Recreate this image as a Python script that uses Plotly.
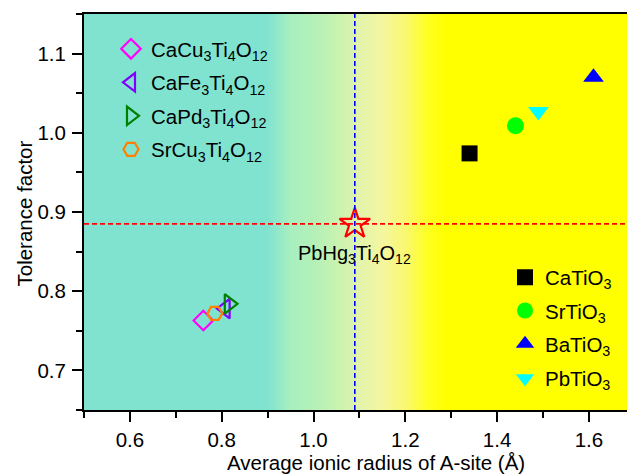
import numpy as np
import plotly.graph_objects as go

# ---------------- data ----------------
cubic_names = ["CaTiO<sub>3</sub>", "SrTiO<sub>3</sub>", "BaTiO<sub>3</sub>", "PbTiO<sub>3</sub>"]
cubic_r = [1.34, 1.44, 1.61, 1.49]
cubic_t = [0.974, 1.009, 1.070, 1.027]
cubic_sym = ["square", "circle", "triangle-up", "triangle-down"]
cubic_col = ["#000000", "#00FF00", "#0000FF", "#00FFFF"]
cubic_size = [16, 17, 18, 18]

aa_names = ["CaCu<sub>3</sub>Ti<sub>4</sub>O<sub>12</sub>", "CaFe<sub>3</sub>Ti<sub>4</sub>O<sub>12</sub>",
            "CaPd<sub>3</sub>Ti<sub>4</sub>O<sub>12</sub>", "SrCu<sub>3</sub>Ti<sub>4</sub>O<sub>12</sub>"]
aa_r = [0.760, 0.808, 0.816, 0.785]
aa_t = [0.763, 0.778, 0.784, 0.772]
aa_sym = ["diamond-open", "triangle-left-open", "triangle-right-open", "hexagon2-open"]
aa_col = ["#FF00FF", "#8000FF", "#008000", "#FF8000"]
aa_size = [15, 17, 17, 15]

star_name = "PbHg<sub>3</sub>Ti<sub>4</sub>O<sub>12</sub>"
star_r = [1.09]
star_t = [0.885]

x_title = "Average ionic radius of A-site (Å)"
y_title = "Tolerance factor"

x_range = [0.5, 1.683]
y_range = [0.65, 1.15]

# background gradient stops (x position, colour)
grad_x = [0.5, 0.90, 0.95, 1.00, 1.05, 1.10, 1.15, 1.20, 1.25, 1.29, 1.8]
grad_c = ["#80E3D0", "#80E3D0", "#A8EFC0", "#B4F0B8", "#C8F2B0", "#E2F4AC",
          "#F4F6A0", "#FAF870", "#FFFF20", "#FFFF00", "#FFFF00"]

FONT = "Liberation Sans, Arial, Helvetica, sans-serif"
W, H = 627, 475
ML, MR, MT, MB = 84, 0, 14, 65
PW, PH = W - ML - MR, H - MT - MB

fig = go.Figure()

# gradient background
gx = np.linspace(0.5, 1.8, 521)
zmin, zmax = grad_x[0], grad_x[-1]
cscale = [[(g - zmin) / (zmax - zmin), c] for g, c in zip(grad_x, grad_c)]
fig.add_trace(go.Heatmap(x=gx, y=y_range, z=[gx, gx], colorscale=cscale,
                         zmin=zmin, zmax=zmax, showscale=False, hoverinfo="skip",
                         showlegend=False))

# legend positions (container px)
leg_tl_y = [49, 82.5, 116, 149.5]
leg_br_y = [277.3, 310.7, 344, 378.3]

legends = {}
for i, (n, r, t, s, c, sz) in enumerate(zip(aa_names, aa_r, aa_t, aa_sym, aa_col, aa_size)):
    key = "legend" if i == 0 else f"legend{i + 1}"
    fig.add_trace(go.Scatter(x=[r], y=[t], mode="markers", name=n,
                             marker=dict(symbol=s, size=sz, color=c, line=dict(width=2.2, color=c)),
                             legend=key, hoverinfo="skip"))
    legends[key] = dict(x=(129 - 18) / W, y=1 - leg_tl_y[i] / H)

for i, (n, r, t, s, c, sz) in enumerate(zip(cubic_names, cubic_r, cubic_t, cubic_sym, cubic_col, cubic_size)):
    key = f"legend{i + 5}"
    fig.add_trace(go.Scatter(x=[r], y=[t], mode="markers", name=n,
                             marker=dict(symbol=s, size=sz, color=c, line=dict(width=0)),
                             legend=key, hoverinfo="skip"))
    legends[key] = dict(x=(523 - 18) / W, y=1 - leg_br_y[i] / H)

# star
fig.add_trace(go.Scatter(x=star_r, y=star_t, mode="markers", showlegend=False,
                         marker=dict(symbol="star-open", size=23, color="#FF0000",
                                     line=dict(width=2.2, color="#FF0000")),
                         hoverinfo="skip"))

# dashed guide lines
fig.add_shape(type="line", xref="x", yref="paper", x0=star_r[0], x1=star_r[0], y0=0, y1=1,
              line=dict(color="#0000FF", width=1.6, dash="5px,3px"), layer="above")
fig.add_shape(type="line", xref="paper", yref="y", x0=0, x1=1, y0=star_t[0], y1=star_t[0],
              line=dict(color="#FF0000", width=1.6, dash="5px,3px"), layer="above")

fig.add_annotation(x=star_r[0], y=star_t[0], text=star_name, showarrow=False,
                   xanchor="center", yanchor="top", yshift=-16,
                   font=dict(family=FONT, size=20, color="black"))

# axis titles
fig.add_annotation(xref="paper", yref="paper", x=(376 - ML) / PW, y=(MT + PH - 462) / PH,
                   text=x_title, showarrow=False, xanchor="center", yanchor="middle",
                   font=dict(family=FONT, size=20.5, color="black"))
fig.add_annotation(xref="paper", yref="paper", x=(23.5 - ML) / PW, y=(MT + PH - 213) / PH,
                   text=y_title, showarrow=False, xanchor="center", yanchor="middle",
                   textangle=-90, font=dict(family=FONT, size=20.5, color="black"))

layout_legends = {}
for key, pos in legends.items():
    layout_legends[key] = dict(x=pos["x"], y=pos["y"], xref="container", yref="container",
                               xanchor="left", yanchor="middle", bgcolor="rgba(0,0,0,0)",
                               borderwidth=0, font=dict(family=FONT, size=20.5, color="black"),
                               itemclick=False, itemdoubleclick=False)

axis_common = dict(showline=True, linecolor="black", linewidth=2, ticks="outside",
                   ticklen=10, tickwidth=2, tickcolor="black", showgrid=False, zeroline=False,
                   tickfont=dict(family=FONT, size=20.5, color="black"), automargin=False,
                   tickformat=".1f")

fig.update_layout(
    width=W, height=H,
    margin=dict(l=ML, r=MR, t=MT, b=MB, autoexpand=False),
    paper_bgcolor="white", plot_bgcolor="white",
    font=dict(family=FONT, size=20, color="black"),
    xaxis=dict(range=x_range, dtick=0.2, tick0=0.6, mirror=True, tickangle=0,
               minor=dict(dtick=0.1, ticklen=6, tickwidth=2, tickcolor="black", ticks="outside"),
               **axis_common),
    yaxis=dict(range=y_range, dtick=0.1, tick0=0.7, mirror=False, ticklabelstandoff=2,
               minor=dict(dtick=0.05, ticklen=6, tickwidth=2, tickcolor="black", ticks="outside"),
               **axis_common),
    **layout_legends,
)

fig.write_html("out.html")
